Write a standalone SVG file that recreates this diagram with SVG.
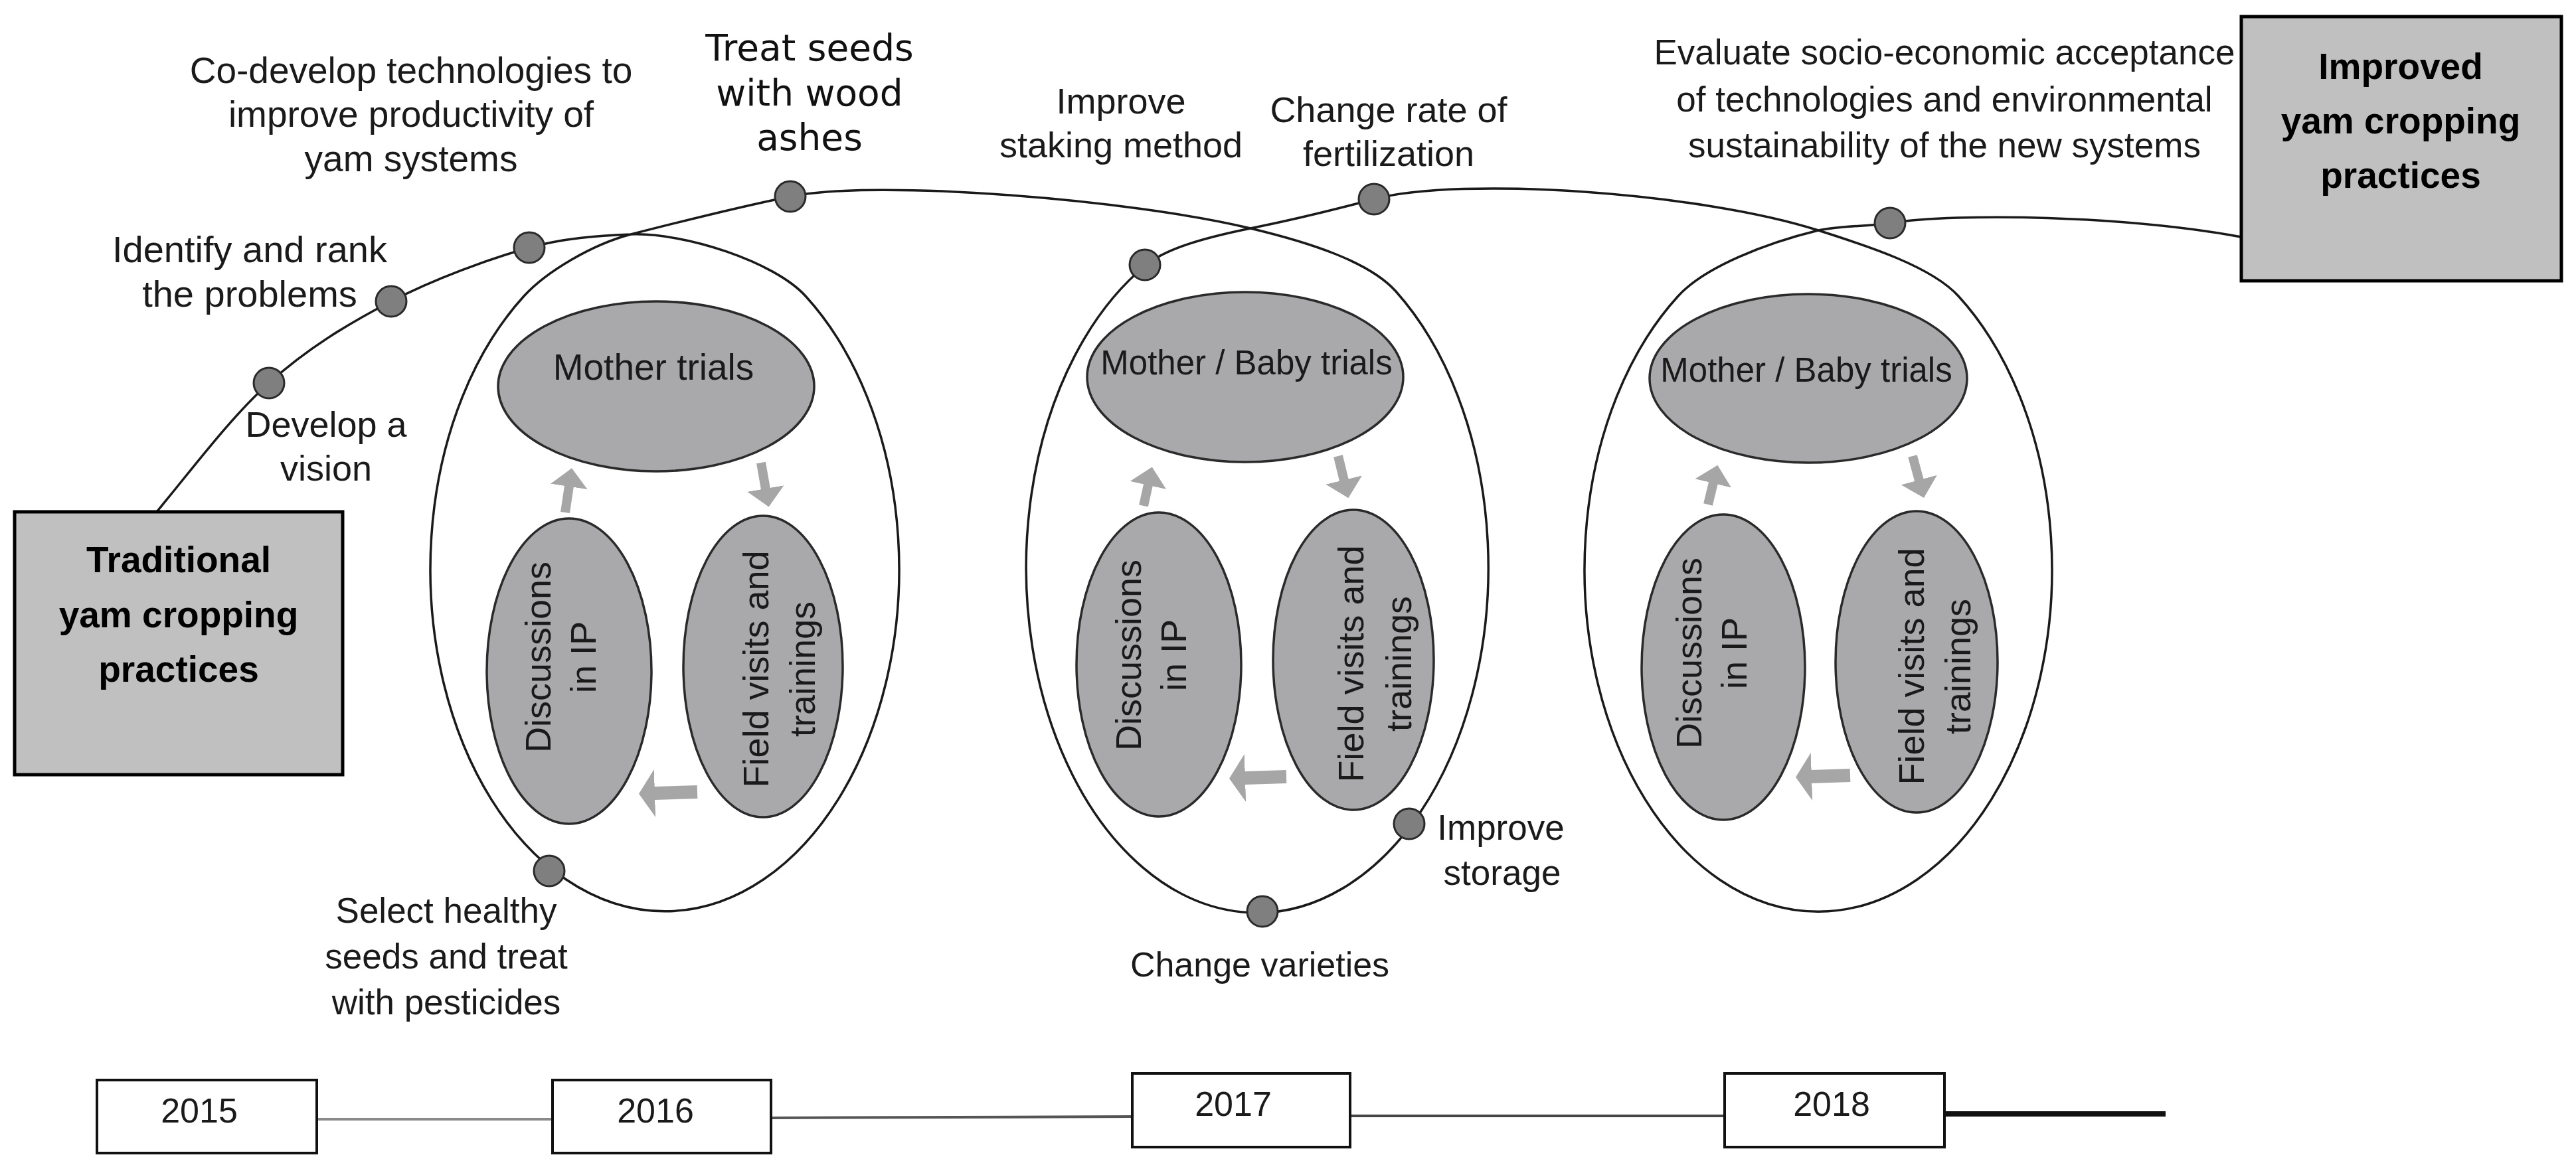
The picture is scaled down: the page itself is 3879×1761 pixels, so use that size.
<svg xmlns="http://www.w3.org/2000/svg" width="3879" height="1761" viewBox="0 0 3879 1761">
<style>
.t{font-family:"Liberation Sans",Arial,sans-serif;fill:#1a1a1a;text-anchor:middle}
.os{font-family:"DejaVu Sans","Liberation Sans",sans-serif;fill:#111;text-anchor:middle;font-size:55px}
.tb{font-family:"Liberation Sans",Arial,sans-serif;font-weight:bold;font-size:55px;fill:#000;text-anchor:middle}
.box{fill:#c0c0c0;stroke:#000;stroke-width:5}
.yr{fill:#fff;stroke:#111;stroke-width:4}
.inner{fill:#a9a9ac;stroke:#2a2a2a;stroke-width:3.5}
.dot{fill:#7f7f7f;stroke:#2a2a2a;stroke-width:3}
.curve{fill:none;stroke:#1a1a1a;stroke-width:3.5}
.ud{stroke:#a6a6a6;stroke-width:14;fill:none;marker-end:url(#ahUD)}
.lf{stroke:#a6a6a6;stroke-width:20;fill:none;marker-end:url(#ahL)}
.tl{stroke-width:4;fill:none}
</style>
<defs>
<marker id="ahUD" markerUnits="userSpaceOnUse" viewBox="0 0 28 56" markerWidth="28" markerHeight="56" refX="1" refY="28" orient="auto"><path d="M0,0 L28,28 L0,56 z" fill="#a6a6a6"/></marker>
<marker id="ahL" markerUnits="userSpaceOnUse" viewBox="0 0 24 72" markerWidth="24" markerHeight="72" refX="1" refY="36" orient="auto"><path d="M0,0 L24,36 L0,72 z" fill="#a6a6a6"/></marker>
</defs>
<rect width="3879" height="1761" fill="#fff"/>

<g id="connectors">
<path id="pathway" class="curve" d="M236,771 C286,711 346,630 405,577 C464,524 524,488 589,454 C654,420 737,390 797,373 C847,359 900,355 950,353 C1030,350 1166,394 1213,446 A353,515 0 1 1 789,446 C823,409 892,368 950,353 C1028,333 1122,310 1190,296 C1320,270 1700,300 1883,344 C1971,365 2062,394 2102,439 A348,520 0 1 1 1726,399 C1757,374 1814,358 1883,344 C1943,332 2009,316 2069,300 C2200,265 2560,290 2738,347 C2814,371 2909,402 2949,446 A352,515 0 1 1 2527,446 C2567,402 2660,366 2738,347 C2778,339 2806,342 2846,336 C2950,320 3200,325 3375,357"/>
<line class="tl" x1="477" y1="1686" x2="832" y2="1686" stroke="#8a8a8a"/>
<line class="tl" x1="1161" y1="1684" x2="1705" y2="1682" stroke="#555"/>
<line class="tl" x1="2033" y1="1681" x2="2597" y2="1681" stroke="#444"/>
<line x1="2928" y1="1678" x2="3261" y2="1678" stroke="#111" stroke-width="8"/>
<path class="ud" d="M851,772 L857,732"/>
<path class="ud" d="M1146,697 L1153,737"/>
<path class="lf" d="M1050,1193 L985,1195"/>
<path class="ud" d="M1722,762 L1729,730"/>
<path class="ud" d="M2015,687 L2024,724"/>
<path class="lf" d="M1937,1170 L1874,1172"/>
<path class="ud" d="M2572,760 L2580,727"/>
<path class="ud" d="M2880,687 L2890,724"/>
<path class="lf" d="M2786,1168 L2727,1170"/>
</g>

<g id="traditional">
<rect class="box" x="22" y="771" width="494" height="396"/>
<text class="tb" x="269" y="862">Traditional</text>
<text class="tb" x="269" y="945">yam cropping</text>
<text class="tb" x="269" y="1027">practices</text>
</g>
<g id="improved">
<rect class="box" x="3375" y="25" width="482" height="398"/>
<text class="tb" x="3615" y="119">Improved</text>
<text class="tb" x="3615" y="201">yam cropping</text>
<text class="tb" x="3615" y="283">practices</text>
</g>

<g id="cycle-2016">
<ellipse class="inner" cx="988" cy="582" rx="238" ry="128"/>
<text class="t" x="984" y="572" font-size="55">Mother trials</text>
<ellipse class="inner" cx="857" cy="1011" rx="124" ry="230"/>
<text class="t" font-size="54" transform="translate(829,990) rotate(-90)"><tspan x="0" y="0">Discussions</tspan><tspan x="0" y="68">in IP</tspan></text>
<ellipse class="inner" cx="1149" cy="1004" rx="120" ry="227"/>
<text class="t" font-size="54" transform="translate(1157,1008) rotate(-90)"><tspan x="0" y="0">Field visits and</tspan><tspan x="0" y="70">trainings</tspan></text>
</g>
<g id="cycle-2017">
<ellipse class="inner" cx="1875" cy="568" rx="238" ry="128"/>
<text class="t" x="1877" y="564" font-size="51">Mother / Baby trials</text>
<ellipse class="inner" cx="1745" cy="1001" rx="124" ry="229"/>
<text class="t" font-size="54" transform="translate(1718,987) rotate(-90)"><tspan x="0" y="0">Discussions</tspan><tspan x="0" y="68">in IP</tspan></text>
<ellipse class="inner" cx="2038" cy="994" rx="121" ry="226"/>
<text class="t" font-size="54" transform="translate(2053,1000) rotate(-90)"><tspan x="0" y="0">Field visits and</tspan><tspan x="0" y="72">trainings</tspan></text>
</g>
<g id="cycle-2018">
<ellipse class="inner" cx="2723" cy="570" rx="239" ry="127"/>
<text class="t" x="2720" y="575" font-size="51">Mother / Baby trials</text>
<ellipse class="inner" cx="2595" cy="1005" rx="123" ry="230"/>
<text class="t" font-size="54" transform="translate(2562,984) rotate(-90)"><tspan x="0" y="0">Discussions</tspan><tspan x="0" y="68">in IP</tspan></text>
<ellipse class="inner" cx="2886" cy="997" rx="122" ry="227"/>
<text class="t" font-size="54" transform="translate(2897,1004) rotate(-90)"><tspan x="0" y="0">Field visits and</tspan><tspan x="0" y="70">trainings</tspan></text>
</g>

<g id="step-vision">
<circle class="dot" cx="405" cy="577" r="23"/>
<text class="t" font-size="54"><tspan x="491" y="658">Develop a</tspan><tspan x="491" y="724">vision</tspan></text>
</g>
<g id="step-identify">
<circle class="dot" cx="589" cy="454" r="23"/>
<text class="t" font-size="56"><tspan x="376" y="395">Identify and rank</tspan><tspan x="376" y="462">the problems</tspan></text>
</g>
<g id="step-codevelop">
<circle class="dot" cx="797" cy="373" r="23"/>
<text class="t" font-size="55"><tspan x="619" y="125">Co-develop technologies to</tspan><tspan x="619" y="191">improve productivity of</tspan><tspan x="619" y="258">yam systems</tspan></text>
</g>
<g id="step-ashes">
<circle class="dot" cx="1190" cy="296" r="23"/>
<text class="os"><tspan x="1219" y="91">Treat seeds</tspan><tspan x="1219" y="159">with wood</tspan><tspan x="1219" y="226">ashes</tspan></text>
</g>
<g id="step-select">
<circle class="dot" cx="827" cy="1312" r="23"/>
<text class="t" font-size="53"><tspan x="672" y="1390">Select healthy</tspan><tspan x="672" y="1459">seeds and treat</tspan><tspan x="672" y="1528">with pesticides</tspan></text>
</g>
<g id="step-staking">
<circle class="dot" cx="1724" cy="399" r="23"/>
<text class="t" font-size="54"><tspan x="1688" y="171">Improve</tspan><tspan x="1688" y="237">staking method</tspan></text>
</g>
<g id="step-fertilization">
<circle class="dot" cx="2069" cy="300" r="23"/>
<text class="t" font-size="54"><tspan x="2091" y="184">Change rate of</tspan><tspan x="2091" y="250">fertilization</tspan></text>
</g>
<g id="step-storage">
<circle class="dot" cx="2122" cy="1241" r="23"/>
<text class="t" font-size="53"><tspan x="2260" y="1265">Improve</tspan><tspan x="2262" y="1333">storage</tspan></text>
</g>
<g id="step-varieties">
<circle class="dot" cx="1901" cy="1373" r="23"/>
<text class="t" x="1897" y="1471" font-size="52">Change varieties</text>
</g>
<g id="step-evaluate">
<circle class="dot" cx="2846" cy="336" r="23"/>
<text class="t" font-size="53"><tspan x="2928" y="97">Evaluate socio-economic acceptance</tspan><tspan x="2928" y="168">of technologies and environmental</tspan><tspan x="2928" y="237">sustainability of the new systems</tspan></text>
</g>

<g id="year-2015">
<rect class="yr" x="146" y="1627" width="331" height="110"/>
<text class="t" x="300" y="1691" font-size="52">2015</text>
</g>
<g id="year-2016">
<rect class="yr" x="832" y="1627" width="329" height="110"/>
<text class="t" x="987" y="1691" font-size="52">2016</text>
</g>
<g id="year-2017">
<rect class="yr" x="1705" y="1617" width="328" height="111"/>
<text class="t" x="1857" y="1681" font-size="52">2017</text>
</g>
<g id="year-2018">
<rect class="yr" x="2597" y="1617" width="331" height="111"/>
<text class="t" x="2758" y="1681" font-size="52">2018</text>
</g>
</svg>
